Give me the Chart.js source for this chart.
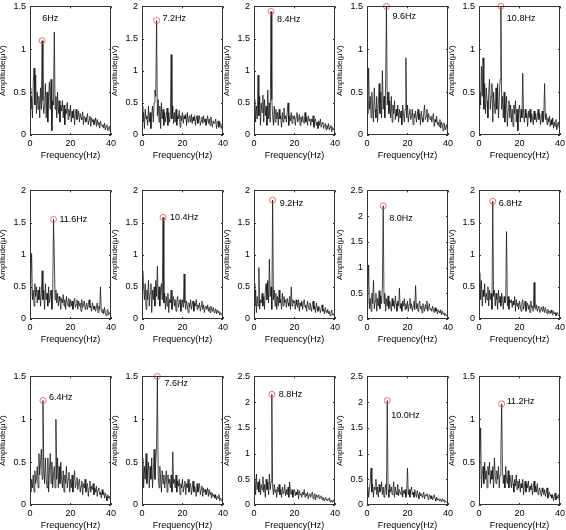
<!DOCTYPE html>
<html>
<head>
    <title>SSVEP spectra</title>
    <script src="https://cdn.jsdelivr.net/npm/chart.js"></script>
    <style>
        body { margin: 0; background: #fff; }
        #wrap { position: relative; width: 566px; height: 530px; overflow: hidden; }
        .panel { position: absolute; }
    </style>
</head>
<body>
    <div id="wrap"></div>
    <script>
        // frequency bins are 0.4 Hz apart, 0..40 Hz
        var FREQ_STEP = 0.4;

        var peakFreq = [6, 7.2, 8.4, 9.6, 10.8, 11.6, 10.4, 9.2, 8.0, 6.8, 6.4, 7.6, 8.8, 10.0, 11.2];
        var peakLabel = ['6Hz', '7.2Hz', '8.4Hz', '9.6Hz', '10.8Hz', '11.6Hz', '10.4Hz', '9.2Hz', '8.0Hz', '6.8Hz',
                         '6.4Hz', '7.6Hz', '8.8Hz', '10.0Hz', '11.2Hz'];
        var yMax = [1.5, 2, 2, 1.5, 1.5, 2, 2, 2, 2.5, 2, 1.5, 1.5, 2.5, 2.5, 1.5];

        var amp1 = [.55,.3,.45,.2,.6,.78,.35,.7,.25,.5, .3,.45,.2,.55,.3,1.1,.4,.25,.35,.6, .2,.5,.15,.45,.62,.3,.65,.05,.4,.35,
                    1.2,.3,.45,.2,.5,.25,.4,.15,.35,.28, .4,.2,.35,.12,.3,.25,.38,.18,.3,.22, .35,.15,.28,.2,.3,.12,.25,.3,.18,.22,
                    .28,.15,.25,.2,.18,.27,.12,.22,.2,.15, .2,.25,.12,.18,.22,.1,.2,.15,.18,.12, .15,.2,.1,.18,.12,.15,.08,.16,.12,.1,
                    .12,.08,.14,.06,.1,.12,.05,.08,.1,.04, .05];
        var amp2 = [.45,.2,.35,.1,.4,.25,.3,.15,.45,.2, .35,.1,.3,.45,.2,.5,.7,.6,1.78,.3, .55,.2,.45,.1,.5,.25,.4,.15,.35,.2,
                    .3,.42,.15,.35,.2,.3,1.25,.25,.45,.18, .35,.2,.4,.15,.3,.25,.38,.12,.3,.22, .35,.18,.3,.25,.32,.15,.35,.2,.28,.3,
                    .2,.32,.18,.28,.22,.3,.15,.25,.3,.18, .25,.3,.15,.22,.28,.18,.3,.2,.25,.15, .22,.3,.18,.25,.15,.28,.2,.12,.22,.18,
                    .2,.25,.1,.18,.22,.12,.2,.15,.1,.18, .12];
        var amp3 = [.3,.55,.2,.45,.25,.93,.3,.6,.15,.5, .35,.62,.2,.55,.3,.45,.15,.7,.25,.5, .2,1.92,.55,.3,.15,.45,.2,.4,.25,.35,
                    .15,.4,.25,.3,.12,.35,.2,.42,.25,.3, .2,.35,.5,.15,.3,.22,.35,.18,.3,.25, .3,.15,.28,.35,.2,.25,.32,.15,.28,.2,
                    .3,.22,.18,.35,.2,.28,.15,.3,.22,.25, .15,.25,.2,.3,.12,.22,.25,.15,.2,.1, .22,.15,.25,.12,.18,.2,.1,.15,.18,.08,
                    .15,.1,.18,.08,.12,.15,.05,.12,.08,.1, .06];
        var amp4 = [.4,.25,.78,.3,.45,.2,.5,.3,.15,.55, .3,.2,.45,.15,.35,.6,.25,.5,.2,.75, .3,.45,.2,.6,1.5,.35,.5,.25,.4,.2,
                    .45,.15,.35,.25,.4,.18,.3,.22,.35,.15, .3,.2,.28,.12,.35,.25,.15,.3,.9,.2, .35,.15,.25,.3,.18,.22,.3,.12,.25,.2,
                    .28,.15,.22,.3,.18,.25,.12,.28,.2,.15, .25,.35,.18,.22,.3,.15,.25,.2,.18,.22, .15,.2,.25,.1,.18,.15,.22,.12,.15,.1,
                    .18,.08,.15,.12,.05,.14,.1,.06,.12,.08, .05];
        var amp5 = [.3,.5,.35,.8,.45,.9,.3,.6,.25,.55, .4,.2,.5,.65,.3,.45,.6,.15,.5,.35, .25,.55,.3,.6,.2,.4,.65,1.5,.3,.45,
                    .2,.5,.15,.35,.45,.1,.3,.4,.2,.35, .15,.3,.1,.35,.25,.4,.15,.3,.05,.28, .35,.15,.3,.2,.72,.25,.15,.3,.2,.25,
                    .1,.28,.2,.3,.15,.25,.2,.12,.28,.18, .25,.15,.22,.3,.18,.25,.12,.2,.28,.15, .22,.6,.18,.25,.12,.2,.15,.22,.1,.18,
                    .12,.2,.08,.15,.1,.18,.06,.12,.15,.08, .1];
        var amp6 = [.35,.6,1.02,.3,.45,.2,.55,.35,.5,.25, .45,.3,.5,.2,.4,.75,.3,.45,.15,.55, .3,.4,.2,.5,.25,.35,.45,.15,.3,1.55,
                    .98,.3,.45,.25,.4,.2,.35,.28,.15,.32, .25,.38,.2,.3,.15,.35,.25,.2,.32,.18, .3,.2,.28,.15,.25,.32,.18,.22,.3,.15,
                    .28,.2,.25,.12,.3,.18,.22,.28,.15,.2, .25,.15,.22,.3,.18,.2,.12,.25,.2,.15, .2,.12,.18,.25,.1,.2,.15,.5,.12,.1,
                    .15,.08,.18,.1,.05,.12,.15,.06,.1,.08, .12];
        var amp7 = [.6,.75,.5,.3,.55,.15,.45,.3,.6,.2, .4,.55,.1,.45,.3,.5,.2,.6,.35,.82, .3,.5,.2,.45,.55,.3,1.58,.25,.4,.15,
                    .35,.2,.4,.1,.3,.25,.45,.15,.28,.35, .2,.3,.12,.28,.35,.18,.25,.3,.12,.22, .3,.18,.7,.25,.15,.28,.2,.1,.25,.18,
                    .3,.15,.22,.28,.12,.25,.2,.3,.15,.22, .18,.25,.12,.2,.28,.15,.22,.1,.18,.2, .15,.22,.12,.18,.1,.2,.15,.12,.18,.1,
                    .12,.16,.08,.14,.1,.12,.06,.1,.08,.05, .04];
        var amp8 = [.55,.2,.45,.1,.35,.2,.8,.15,.3,.25, .4,.2,.35,.15,.45,.55,.3,.6,.25,.93, .35,.5,.15,1.85,.3,.45,.2,.4,.15,.35,
                    .2,.45,.25,.3,.15,.4,.2,.35,.25,.3, .18,.32,.25,.2,.35,.15,.5,.2,.3,.25, .28,.15,.3,.22,.18,.3,.12,.25,.2,.28,
                    .15,.25,.3,.18,.22,.12,.28,.2,.15,.25, .2,.12,.22,.28,.15,.2,.1,.25,.18,.12, .2,.15,.1,.18,.22,.12,.15,.08,.18,.12,
                    .1,.15,.08,.12,.05,.1,.14,.06,.08,.05, .04];
        var amp9 = [.3,.45,1.05,.2,.4,.15,.5,.3,.75,.2, .35,.5,.15,.4,.25,.55,.2,.45,.3,.6, 2.2,.3,.5,.15,.4,.25,.45,.2,.35,.3,
                    .15,.4,.25,.35,.2,.45,.3,.15,.35,.25, .6,.2,.3,.15,.35,.25,.4,.18,.3,.2, .35,.15,.28,.4,.2,.3,.15,.25,.35,.18,
                    .65,.2,.3,.15,.28,.35,.2,.25,.12,.3, .22,.15,.28,.2,.35,.15,.22,.3,.18,.2, .15,.25,.18,.12,.22,.15,.2,.1,.18,.15,
                    .12,.18,.08,.15,.1,.12,.06,.1,.08,.05, .06];
        var amp10 = [.5,.72,.3,.6,.2,.45,.35,.55,.25,.4, .3,.5,.2,.45,.3,.4,.15,1.83,.35,.45, .2,.4,.3,.15,.45,.25,.35,.2,.4,.3,
                     .15,.35,.25,.3,1.36,.2,.35,.15,.3,.25, .3,.18,.28,.22,.35,.12,.3,.2,.25,.15, .28,.2,.12,.25,.3,.15,.22,.28,.12,.2,
                     .25,.15,.22,.1,.28,.18,.2,.12,.57,.18, .15,.22,.12,.18,.2,.1,.15,.18,.12,.2, .15,.1,.18,.12,.08,.15,.1,.12,.08,.14,
                     .1,.06,.12,.08,.1,.05,.08,.1,.06,.04, .05];
        var amp11 = [.25,.15,.3,.2,.35,.15,.4,.25,.3,.45, .2,.6,.35,.5,.65,.3,1.22,.45,.25,.55, .3,.2,.55,.15,.4,.6,.25,.5,.2,.35,
                     .45,.2,1.0,.3,.55,.2,.45,.25,.5,.3, .2,.4,.15,.35,.25,.45,.2,.3,.38,.15, .3,.2,.35,.15,.28,.4,.2,.25,.32,.18,
                     .25,.3,.15,.22,.28,.12,.25,.2,.3,.15, .22,.25,.1,.2,.28,.15,.22,.18,.25,.12, .2,.15,.22,.1,.18,.2,.12,.15,.08,.18,
                     .12,.15,.08,.14,.1,.05,.12,.08,.1,.06, .05];
        var amp12 = [.3,.55,.2,.45,.3,.6,.25,.4,.5,.2, .45,.3,.55,.2,.4,.65,.3,.5,.7,1.5, .35,.2,.45,.3,.15,.4,.25,.35,.2,.3,
                     .4,.15,.35,.25,.3,.2,.35,.15,.62,.25, .3,.2,.35,.15,.28,.22,.3,.12,.25,.2, .3,.15,.22,.28,.12,.25,.2,.3,.15,.22,
                     .25,.12,.2,.28,.15,.22,.18,.1,.25,.15, .2,.25,.12,.18,.22,.1,.2,.15,.18,.12, .15,.2,.1,.18,.12,.15,.08,.14,.1,.12,
                     .08,.12,.06,.1,.08,.12,.05,.08,.06,.04, .05];
        var amp13 = [.35,.5,.2,.6,.3,.45,.25,.5,.2,.4, .3,.55,.25,.4,.15,.5,.3,.45,.2,.6, .3,.45,2.15,.35,.2,.4,.25,.3,.15,.35,
                     .25,.4,.2,.3,.15,.35,.22,.28,.4,.18, .3,.2,.35,.15,.45,.25,.2,.3,.15,.25, .3,.18,.25,.2,.3,.12,.28,.2,.22,.15,
                     .25,.2,.3,.15,.22,.18,.25,.12,.2,.22, .15,.2,.25,.12,.18,.22,.1,.2,.15,.18, .2,.12,.15,.18,.1,.15,.12,.08,.15,.1,
                     .12,.08,.1,.14,.06,.1,.08,.05,.1,.06, .05];
        var amp14 = [.2,.35,.15,.3,.45,.72,.25,.4,.15,.35, .3,.5,.2,.35,.15,.4,.25,.3,.45,.2, .35,.15,.3,.4,.2,2.03,.3,.15,.4,.25,
                     .35,.2,.3,.45,.15,.35,.25,.2,.4,.18, .3,.25,.2,.35,.15,.28,.22,.3,.15,.25, .72,.2,.3,.15,.28,.35,.2,.25,.15,.3,
                     .22,.15,.28,.2,.12,.25,.18,.22,.15,.2, .25,.12,.2,.18,.22,.15,.1,.2,.18,.12, .18,.1,.15,.2,.12,.08,.15,.1,.12,.08,
                     .12,.1,.06,.12,.08,.1,.05,.08,.06,.05, .04];
        var amp15 = [.3,.5,.9,.2,.35,.45,.25,.5,.3,.4, .2,.45,.35,.5,.25,.4,.3,.45,.2,.55, .35,.25,.4,.3,.45,.2,.35,.6,1.18,.4,
                     .25,.35,.2,.45,.3,.25,.4,.2,.35,.3, .2,.35,.25,.15,.3,.22,.35,.18,.28,.2, .3,.15,.25,.2,.3,.12,.22,.28,.15,.25,
                     .2,.28,.15,.22,.18,.25,.12,.2,.28,.15, .22,.15,.25,.12,.18,.2,.15,.1,.2,.15, .12,.18,.1,.15,.2,.08,.12,.15,.1,.12,
                     .08,.12,.05,.1,.14,.06,.1,.08,.12,.06, .05];

        var amps = [amp1, amp2, amp3, amp4, amp5, amp6, amp7, amp8, amp9, amp10, amp11, amp12, amp13, amp14, amp15];

        // layout: plot area corners in the page
        var colLeft = [30, 142, 254, 367, 479];
        var rowTop = [3, 187, 373];
        var plotW = 81, plotH = 132;
        var yAxisW = 32, xAxisH = 26, padTop = 6, padRight = 8;
        // where each peak label sits, relative to its red circle (px)
        var labelDx = [0, 6, 6, 6, 6, 6, 7, 7, 6, 6, 6, 7, 7, 4, 5];
        var labelDy = [-22, -2, 8, 10, 12, 0, 0, 3, 13, 2, -3, 7, 0, 15, -2];

        var FONT = "'Liberation Sans', Arial, Helvetica, sans-serif";
        Chart.defaults.font.family = FONT;
        Chart.defaults.font.size = 9;
        Chart.defaults.color = '#000';

        // box, inward ticks and the peak label
        var matlabAxes = {
            id: 'matlabAxes',
            afterDatasetsDraw: function(chart, args, opts) {
                var c = chart.ctx, a = chart.chartArea;
                var xs = chart.scales.x, ys = chart.scales.y;
                c.save();
                c.strokeStyle = '#333';
                c.lineWidth = 1;
                c.beginPath();
                ys.ticks.forEach(function(t) {
                    var y = Math.round(ys.getPixelForValue(t.value)) + 0.5;
                    c.moveTo(a.left, y); c.lineTo(a.left + 2, y);
                    c.moveTo(a.right, y); c.lineTo(a.right - 2, y);
                });
                xs.ticks.forEach(function(t) {
                    var x = Math.round(xs.getPixelForValue(t.value)) + 0.5;
                    c.moveTo(x, a.bottom); c.lineTo(x, a.bottom - 2);
                    c.moveTo(x, a.top); c.lineTo(x, a.top + 2);
                });
                c.stroke();
                c.strokeRect(Math.round(a.left) + 0.5, Math.round(a.top) + 0.5,
                             Math.round(a.right - a.left) - 1, Math.round(a.bottom - a.top) - 1);
                var k = opts.k;
                var pk = chart.getDatasetMeta(0).data[0];
                c.fillStyle = '#000';
                c.font = '9px ' + FONT;
                c.textAlign = 'left';
                c.textBaseline = 'middle';
                c.fillText(peakLabel[k], pk.x + labelDx[k], pk.y + labelDy[k]);
                c.restore();
            }
        };

        var wrap = document.getElementById('wrap');
        for (let k = 0; k < 15; k++) {
            var col = k % 5, row = Math.floor(k / 5);
            var div = document.createElement('div');
            div.className = 'panel';
            div.style.left = (colLeft[col] - yAxisW) + 'px';
            div.style.top = (rowTop[row] - padTop) + 'px';
            div.style.width = (yAxisW + plotW + padRight) + 'px';
            div.style.height = (padTop + plotH + xAxisH) + 'px';
            var cv = document.createElement('canvas');
            div.appendChild(cv);
            wrap.appendChild(div);

            var series = amps[k].map(function(v, i) { return {x: i * FREQ_STEP, y: v}; });
            var pIdx = Math.round(peakFreq[k] / FREQ_STEP);

            new Chart(cv.getContext('2d'), {
                type: 'line',
                data: {
                    datasets: [{
                        type: 'scatter',
                        data: [{x: peakFreq[k], y: amps[k][pIdx]}],
                        pointStyle: 'circle',
                        pointRadius: 3,
                        pointBorderWidth: 0.8,
                        pointBorderColor: '#e8504f',
                        pointBackgroundColor: 'rgba(0,0,0,0)',
                        clip: false
                    }, {
                        data: series,
                        borderColor: '#111',
                        borderWidth: 0.75,
                        pointRadius: 0,
                        tension: 0,
                        fill: false
                    }]
                },
                options: {
                    responsive: true,
                    maintainAspectRatio: false,
                    animation: false,
                    events: [],
                    layout: { padding: { top: padTop, right: padRight, left: 0, bottom: 0 } },
                    plugins: {
                        legend: { display: false },
                        tooltip: { enabled: false },
                        matlabAxes: { k: k }
                    },
                    scales: {
                        x: {
                            type: 'linear',
                            min: 0, max: 40,
                            grid: { display: false, drawTicks: false },
                            border: { display: false },
                            ticks: { stepSize: 20, padding: 3, maxRotation: 0 },
                            title: { display: true, text: 'Frequency(Hz)', padding: 0, font: { size: 9 } },
                            afterFit: function(s) { s.height = xAxisH; }
                        },
                        y: {
                            min: 0, max: yMax[k],
                            grid: { display: false, drawTicks: false },
                            border: { display: false },
                            ticks: {
                                stepSize: 0.5, padding: 4,
                                callback: function(v) { return String(Math.round(v * 10) / 10); }
                            },
                            title: { display: true, text: 'Amplitude(μV)', padding: 0, font: { size: 8 } },
                            afterFit: function(s) { s.width = yAxisW; }
                        }
                    }
                },
                plugins: [matlabAxes]
            });
        }
    </script>
</body>
</html>
